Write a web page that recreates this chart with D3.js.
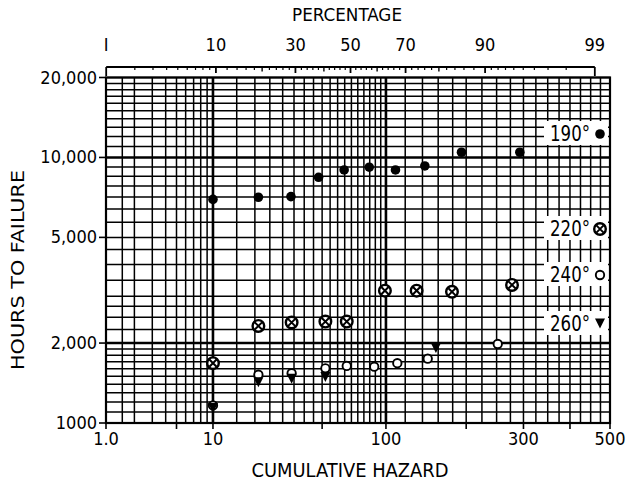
<!DOCTYPE html>
<html><head><meta charset="utf-8">
<script src="https://cdn.jsdelivr.net/npm/d3@7"></script>
<style>
html,body{margin:0;padding:0;background:#fff;}
svg{display:block;}
text{font-family:"Liberation Sans Narrow","DejaVu Sans Condensed","Liberation Sans",sans-serif;fill:#000;}
</style></head>
<body>
<svg id="c" width="629" height="482"></svg>
<script>
// ---------- data ----------
const series190H = [10, 21.1, 33.6, 47.9, 64.6, 84.6, 109.6, 142.9, 192.9, 292.9];
const series190Hours = [6950, 7080, 7120, 8420, 8970, 9190, 8970, 9290, 10460, 10460];
const series220H = [10, 21.1, 33.9, 52, 66.5, 99, 133, 179, 278];
const series220Hours = [1680, 2320, 2390, 2410, 2410, 3150, 3150, 3120, 3310];
const series240H = [10, 21.1, 33.9, 52, 66.5, 89, 111.5, 146.5, 252];
const series240Hours = [1165, 1520, 1540, 1607, 1640, 1630, 1680, 1747, 1984];
const series260H = [10, 21.1, 33.9, 52, 157];
const series260Hours = [1145, 1430, 1475, 1495, 1925];

const hazardGrid = [1,1.5,2,3,4,5,6,7,8,9,10,15,20,25,30,35,40,45,50,55,60,65,70,75,80,85,90,95,100,
  120,140,160,180,200,225,250,275,300,325,350,375,400,425,450,475,500];
const hazardHeavy = [10, 100];
const hoursGrid = [1000,1100,1200,1300,1400,1500,1600,1700,1800,1900,2000,2250,2500,2750,3000,3450,3950,4500,
  5000,5700,6400,7100,7800,8500,9200,10000,11000,12000,13000,14000,15000,16000,17000,18000,19000,20000];
const hoursHeavy = [2000, 10000];
const hazardTickVals = [1, 5, 10, 50, 100, 200, 300, 400, 500];
const hazardLabels = [[1,"1.0"],[10,"10"],[100,"100"],[300,"300"],[500,"500"]];
const hoursLabels = [[20000,"20,000"],[10000,"10,000"],[5000,"5,000"],[2000,"2,000"],[1000,"1000"]];
const pctMinor = [2,3,4,5,6,7,8,9,12,14,16,18,22,24,26,28,32,34,36,38,42,44,46,48,52,54,56,58,62,64,66,68,72,74,76,78,82,84,86,88,91,92,93,94,95,96,97,98];
const pctMedium = [20,40,60,80];
const pctLabeled = [1,10,30,50,70,90,99];
const legendItems = [["190°","dot"],["220°","cross"],["240°","ring"],["260°","tri"]];

// ---------- helpers ----------
function qnorm(p){ // Acklam inverse normal
  const a=[-3.969683028665376e+01,2.209460984245205e+02,-2.759285104469687e+02,1.383577518672690e+02,-3.066479806614716e+01,2.506628277459239e+00];
  const b=[-5.447609879822406e+01,1.615858368580409e+02,-1.556989798598866e+02,6.680131188771972e+01,-1.328068155288572e+01];
  const c=[-7.784894002430293e-03,-3.223964580411365e-01,-2.400758277161838e+00,-2.549671636839180e+00,4.374664141464968e+00,2.938163982698783e+00];
  const d=[7.784695709041462e-03,3.224671290700398e-01,2.445134137142996e+00,3.754408661907416e+00];
  const pl=0.02425, ph=1-pl; let q,r;
  if(p<pl){q=Math.sqrt(-2*Math.log(p));return (((((c[0]*q+c[1])*q+c[2])*q+c[3])*q+c[4])*q+c[5])/((((d[0]*q+d[1])*q+d[2])*q+d[3])*q+1);}
  if(p<=ph){q=p-0.5;r=q*q;return (((((a[0]*r+a[1])*r+a[2])*r+a[3])*r+a[4])*r+a[5])*q/(((((b[0]*r+b[1])*r+b[2])*r+b[3])*r+b[4])*r+1);}
  q=Math.sqrt(-2*Math.log(1-p));return -(((((c[0]*q+c[1])*q+c[2])*q+c[3])*q+c[4])*q+c[5])/((((d[0]*q+d[1])*q+d[2])*q+d[3])*q+1);
}
const zH = h => qnorm(1 - Math.exp(-h/100));
const L=106, R=610, T=77.5, B=423;
const zScale = d3.scaleLinear().domain([zH(1), zH(500)]).range([L, R]);
const x = h => zScale(zH(h));
const xp = p => zScale(qnorm(p/100));
const y = d3.scaleLog().domain([1000, 20000]).range([B, T]);

const svg = d3.select("#c");
svg.append("rect").attr("width",629).attr("height",482).attr("fill","#fff");

// grid
svg.append("g").attr("stroke","#000").selectAll("line").data(hazardGrid).join("line")
  .attr("x1",d=>x(d)).attr("x2",d=>x(d)).attr("y1",T).attr("y2",B)
  .attr("stroke-width",d=>hazardHeavy.includes(d)?2.6:1.5);
svg.append("g").attr("stroke","#000").selectAll("line").data(hoursGrid).join("line")
  .attr("x1",L).attr("x2",R).attr("y1",d=>y(d)).attr("y2",d=>y(d))
  .attr("stroke-width",d=>hoursHeavy.includes(d)?2.6:1.5);
svg.append("rect").attr("x",L).attr("y",T).attr("width",R-L).attr("height",B-T)
  .attr("fill","none").attr("stroke","#000").attr("stroke-width",2.2);

// bottom ticks + labels
svg.append("g").selectAll("line").data(hazardTickVals).join("line")
  .attr("x1",d=>x(d)).attr("x2",d=>x(d)).attr("y1",B).attr("y2",B+6)
  .attr("stroke","#000").attr("stroke-width",1.6);
svg.append("g").selectAll("text").data(hazardLabels).join("text")
  .attr("x",d=>x(d[0])).attr("y",445).attr("text-anchor","middle")
  .attr("font-size",18).text(d=>d[1]);
svg.append("text").attr("x",350).attr("y",477).attr("text-anchor","middle")
  .attr("font-size",19).attr("textLength",197).attr("lengthAdjust","spacingAndGlyphs")
  .text("CUMULATIVE HAZARD");

// left ticks + labels
svg.append("g").selectAll("line").data(hoursLabels).join("line")
  .attr("x1",L-7).attr("x2",L).attr("y1",d=>y(d[0])).attr("y2",d=>y(d[0]))
  .attr("stroke","#000").attr("stroke-width",1.6);
svg.append("g").selectAll("text").data(hoursLabels).join("text")
  .attr("x",L-9).attr("y",d=>y(d[0])+6).attr("text-anchor","end")
  .attr("font-size",18).text(d=>d[1]);
svg.append("text").attr("transform","translate(24,270) rotate(-90)")
  .attr("text-anchor","middle").attr("font-size",18)
  .attr("textLength",200).attr("lengthAdjust","spacingAndGlyphs").text("HOURS TO FAILURE");

// top percentage axis
const ty = 67;
svg.append("line").attr("x1",xp(1)).attr("x2",xp(99)).attr("y1",ty).attr("y2",ty)
  .attr("stroke","#000").attr("stroke-width",1.8);
svg.append("g").selectAll("line").data(pctMinor).join("line")
  .attr("x1",d=>xp(d)).attr("x2",d=>xp(d)).attr("y1",ty).attr("y2",ty+3)
  .attr("stroke","#000").attr("stroke-width",1.2);
svg.append("g").selectAll("line").data(pctMedium).join("line")
  .attr("x1",d=>xp(d)).attr("x2",d=>xp(d)).attr("y1",ty).attr("y2",ty+4.5)
  .attr("stroke","#000").attr("stroke-width",1.4);
svg.append("g").selectAll("line").data(pctLabeled).join("line")
  .attr("x1",d=>xp(d)).attr("x2",d=>xp(d)).attr("y1",ty).attr("y2",d=>(d===1||d===99)?ty+9:ty+6)
  .attr("stroke","#000").attr("stroke-width",1.8);
svg.append("g").selectAll("text").data(pctLabeled).join("text")
  .attr("x",d=>xp(d)).attr("y",51).attr("text-anchor","middle")
  .attr("font-size",18).text(d=>d===1?"I":d);
svg.append("text").attr("x",347).attr("y",21).attr("text-anchor","middle")
  .attr("font-size",18).attr("textLength",110).attr("lengthAdjust","spacingAndGlyphs").text("PERCENTAGE");

// markers
function drawMarker(sel, type, cx, cy){
  if(type==="dot"){ sel.append("circle").attr("cx",cx).attr("cy",cy).attr("r",4.8).attr("fill","#000"); }
  else if(type==="cross"){
    sel.append("circle").attr("cx",cx).attr("cy",cy).attr("r",5.8).attr("fill","#fff").attr("stroke","#000").attr("stroke-width",2.4);
    const k=3.6;
    sel.append("path").attr("d",`M${cx-k},${cy-k}L${cx+k},${cy+k}M${cx-k},${cy+k}L${cx+k},${cy-k}`).attr("stroke","#000").attr("stroke-width",2);
  } else if(type==="ring"){
    sel.append("circle").attr("cx",cx).attr("cy",cy).attr("r",4.2).attr("fill","#fff").attr("stroke","#000").attr("stroke-width",1.9);
  } else {
    sel.append("path").attr("d",`M${cx-5},${cy-4.5}L${cx+5},${cy-4.5}L${cx},${cy+5.5}Z`).attr("fill","#000");
  }
}
const mk = svg.append("g");
[[series240H,series240Hours,"ring"],[series260H,series260Hours,"tri"],[series220H,series220Hours,"cross"],[series190H,series190Hours,"dot"]]
.forEach(([hs,vs,t])=>{ hs.forEach((h,i)=>drawMarker(mk,t,x(h),y(vs[i]))); });

// legend boxes
const legendY = [133, 228, 274, 323];
legendItems.forEach((it,i)=>{
  const cy = legendY[i];
  svg.append("rect").attr("x",544).attr("y",cy-12).attr("width",64).attr("height",24).attr("fill","#fff");
  svg.append("text").attr("x",550).attr("y",cy+8).attr("font-size",22)
    .attr("textLength",40).attr("lengthAdjust","spacingAndGlyphs").text(it[0]);
  drawMarker(svg, it[1], 600, cy+ (it[1]==="tri"?0:1));
});
</script>
</body></html>
